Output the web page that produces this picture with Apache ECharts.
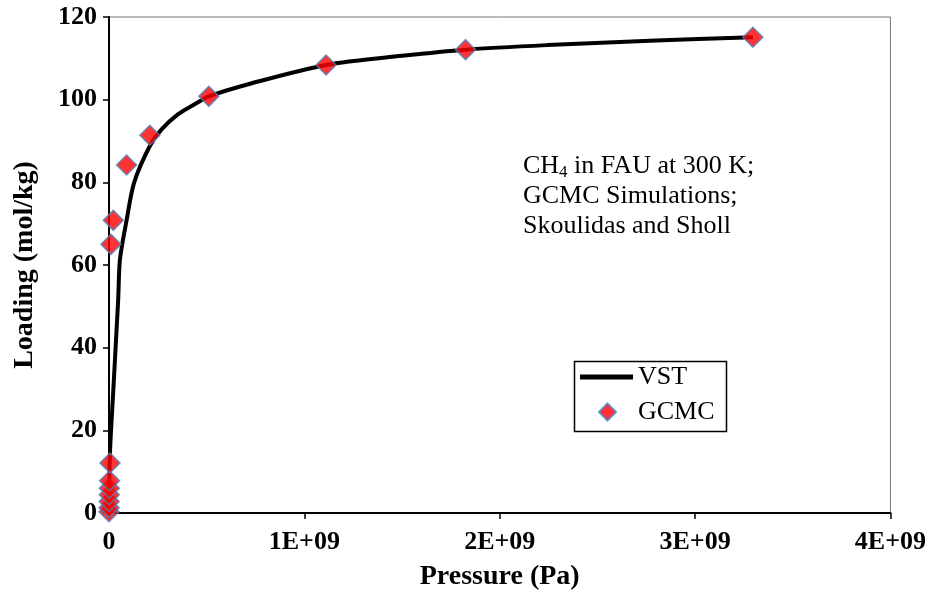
<!DOCTYPE html>
<html>
<head>
<meta charset="utf-8">
<script src="https://cdn.jsdelivr.net/npm/echarts@6/dist/echarts.min.js"></script>
<style>
  html, body { margin: 0; padding: 0; background: #fff; }
  #chart { width: 929px; height: 605px; }
</style>
</head>
<body>
<div id="chart"></div>
<script>
// pressure in Pa, loading in mol/kg
var vstPressure = [0, 5e6, 2e7, 4.7e7, 5.6e7, 9e7, 1.29e8, 2.09e8, 2.69e8, 3.54e8, 4.39e8, 5.11e8, 7.18e8, 1.111e9, 1.5e9, 1.825e9, 2.244e9, 2.8e9, 3.296e9];
var vstLoading  = [0, 14.5, 28, 51.6, 61.3, 70.8, 80, 88.8, 92.8, 96.5, 98.9, 100.8, 103.8, 108.4, 110.6, 112.1, 113.2, 114.3, 115.1];

var gcmcPressure = [1e5, 5e5, 1e6, 1.5e6, 2e6, 3e6, 5e6, 1e7, 2.2e7, 9e7, 2.09e8, 5.11e8, 1.111e9, 1.825e9, 3.296e9];
var gcmcLoading  = [0.3, 1.3, 2.8, 4.4, 6.0, 7.8, 12.1, 65.0, 70.8, 84.2, 91.4, 100.8, 108.4, 112.1, 115.1];

var xTicks = ['0', '1E+09', '2E+09', '3E+09', '4E+09'];

function pairs(xs, ys) {
  return xs.map(function (x, i) { return [x, ys[i]]; });
}

var serif = '"Liberation Serif", "Times New Roman", serif';

var chart = echarts.init(document.getElementById('chart'));
chart.setOption({
  animation: false,
  grid: {
    left: 109, right: 37, top: 17, bottom: 92,
    show: true, borderColor: '#777', borderWidth: 1
  },
  xAxis: {
    type: 'value', min: 0, max: 4e9, interval: 1e9,
    name: 'Pressure (Pa)', nameLocation: 'middle', nameGap: 50,
    nameTextStyle: { fontFamily: serif, fontWeight: 'bold', fontSize: 28, color: '#000' },
    axisLine: { lineStyle: { color: '#000', width: 2 } },
    axisTick: { show: true, length: 6, lineStyle: { color: '#000', width: 1.5 } },
    axisLabel: {
      margin: 16, fontFamily: serif, fontWeight: 'bold', fontSize: 26, color: '#000',
      formatter: function (v) { return xTicks[Math.round(v / 1e9)]; }
    },
    splitLine: { show: false }
  },
  yAxis: {
    type: 'value', min: 0, max: 120, interval: 20,
    name: 'Loading (mol/kg)', nameLocation: 'middle', nameGap: 70, nameRotate: 90,
    nameTextStyle: { fontFamily: serif, fontWeight: 'bold', fontSize: 28, color: '#000' },
    axisLine: { show: true, lineStyle: { color: '#000', width: 2 } },
    axisTick: { show: true, length: 6, lineStyle: { color: '#000', width: 1.5 } },
    axisLabel: { margin: 12, fontFamily: serif, fontWeight: 'bold', fontSize: 26, color: '#000' },
    splitLine: { show: false }
  },
  legend: [
    {
      data: [{ name: 'VST', icon: 'rect', itemStyle: { color: '#000' } }],
      left: 580, top: 364, padding: 0,
      itemWidth: 53, itemHeight: 5, selectedMode: false,
      textStyle: { fontFamily: serif, fontSize: 26, color: '#000' }
    },
    {
      data: [{ name: 'GCMC', icon: 'diamond' }], left: 598, top: 399, padding: 0,
      itemWidth: 17, itemHeight: 17, selectedMode: false,
      textStyle: { fontFamily: serif, fontSize: 26, color: '#000', padding: [0, 0, 0, 17] }
    }
  ],
  graphic: [
    {
      type: 'rect', left: 572, top: 359, silent: true,
      shape: { width: 152, height: 70 },
      style: { fill: 'none', stroke: '#000', lineWidth: 1.5 }
    },
    {
      type: 'text', left: 523, top: 151, silent: true,
      style: {
        text: 'CH{sub|4} in FAU at 300 K;\nGCMC Simulations;\nSkoulidas and Sholl',
        fontFamily: serif, fontSize: 26, fill: '#000', lineHeight: 30,
        rich: { sub: { fontSize: 17, verticalAlign: 'bottom', padding: [14, 0, 0, 0], fontFamily: serif } }
      }
    }
  ],
  series: [
    {
      name: 'VST', type: 'line', smooth: 0.3, showSymbol: false, symbol: 'none',
      data: pairs(vstPressure, vstLoading),
      lineStyle: { color: '#000', width: 4 },
      itemStyle: { color: '#000' },
      z: 2
    },
    {
      name: 'GCMC', type: 'scatter', symbol: 'diamond', symbolSize: 20,
      data: pairs(gcmcPressure, gcmcLoading),
      itemStyle: { color: '#ff0000', borderColor: '#4f81bd', borderWidth: 1.5 },
      z: 3
    }
  ]
});
</script>
</body>
</html>
